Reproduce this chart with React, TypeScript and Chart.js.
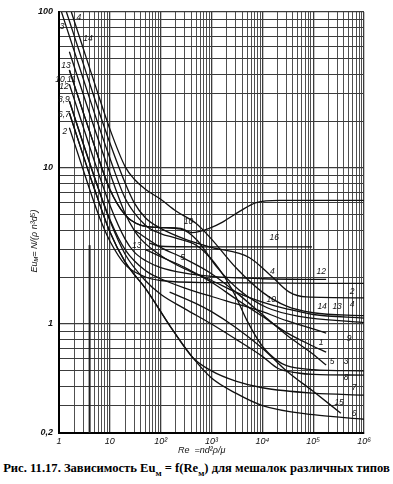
import { useEffect, useRef } from 'react';
import { Chart, registerables } from 'chart.js';

Chart.register(...registerables);

// ---- data (Re, Eu) per curve ----
const re14 = [1.75, 3, 5, 10, 20, 30, 50, 100, 200, 500, 1000, 3000, 10000, 30000, 100000, 1000000];
const eu14 = [100, 58.3, 35, 17.8, 10.2, 8.5, 7.3, 6.3, 5.3, 4.4, 3.5, 2.3, 1.6, 1.3, 1.18, 1.13];

const re4 = [1.4, 2, 3, 5, 10, 20, 30, 50, 100, 300, 1000, 5600, 15700, 34000, 73000, 1000000];
const eu4 = [100, 70, 46.7, 28, 14.5, 8.0, 6.0, 4.8, 4.1, 3.5, 3.1, 2.66, 2.0, 1.6, 1.49, 1.47];

const re3 = [1.12, 2, 3, 5, 10, 20, 50, 100, 200, 500, 1000, 2000, 3000, 5000, 10000, 20000, 30000, 100000, 1000000];
const eu3 = [100, 56, 37.3, 22.4, 11.6, 6.4, 4.3, 3.8, 3.55, 3.2, 2.6, 1.9, 1.5, 1.05, 0.72, 0.58, 0.54, 0.51, 0.5];

const re13 = [1.6, 3, 5, 10, 20, 30, 42, 100, 300, 1000, 3000, 10000, 30000, 100000, 1000000];
const eu13 = [55.6, 29.7, 17.9, 9.3, 5.1, 4.0, 3.46, 2.75, 2.25, 1.9, 1.6, 1.38, 1.25, 1.15, 1.09];

const re11 = [1.6, 3, 5, 10, 20, 40, 100, 250, 420, 900, 1650, 3500, 7600, 21700, 1000000];
const eu11 = [42.5, 22.7, 13.8, 7.3, 5.0, 4.3, 4.15, 4.1, 3.85, 4.1, 4.5, 5.25, 6.0, 6.2, 6.2];

const re10 = [1.6, 3, 5, 10, 20, 40, 100, 250, 510, 1250, 3500, 12500, 53000, 1000000];
const eu10 = [42.5, 22.7, 13.8, 7.3, 5.0, 4.3, 4.15, 4.05, 3.47, 2.33, 1.65, 1.27, 1.12, 1.02];

const re12 = [1.6, 3, 5, 10, 20, 30, 50, 100, 300, 1000, 10000, 180000];
const eu12 = [34.4, 18.3, 11, 5.8, 3.5, 2.9, 2.55, 2.3, 2.12, 2.02, 1.95, 1.93];

const re2 = [1.6, 3, 5, 7, 10, 20, 50, 100, 1000, 1000000];
const eu2 = [18.1, 9.7, 5.9, 4.4, 3.4, 2.4, 2.0, 1.9, 1.84, 1.82];

const re9 = [1.6, 3, 5, 10, 20, 50, 100, 300, 1000, 3000, 10000, 30000, 100000, 180000];
const eu9 = [26.9, 14.3, 8.7, 4.7, 3.0, 2.2, 1.95, 1.7, 1.5, 1.35, 1.2, 1.05, 0.93, 0.875];

const re8 = [1.6, 3, 5, 10, 20, 50, 100, 300, 1000, 3000, 10000, 20000, 50000, 100000, 1000000];
const eu8 = [26.9, 14.3, 8.7, 4.6, 2.8, 1.9, 1.55, 1.25, 1.0, 0.8, 0.62, 0.52, 0.485, 0.475, 0.47];

const re7 = [1.6, 3, 5, 10, 20, 53, 172, 425, 1000, 3000, 10000, 100000, 1000000];
const eu7 = [22.5, 12, 7.3, 3.9, 2.5, 1.65, 0.915, 0.61, 0.5, 0.43, 0.39, 0.36, 0.35];

const re6 = [1.6, 3, 5, 10, 20, 53, 172, 425, 1000, 3000, 10000, 100000, 1000000];
const eu6 = [22.5, 12, 7.3, 3.9, 2.5, 1.65, 0.915, 0.61, 0.45, 0.36, 0.3, 0.262, 0.245];

const re1 = [50, 100, 300, 1000, 3000, 10000, 30000, 100000, 180000];
const eu1 = [3.0, 2.7, 2.3, 1.85, 1.45, 1.12, 0.88, 0.72, 0.66];

const re5 = [30, 100, 270, 1000, 3000, 10000, 30000, 100000, 180000];
const eu5 = [4.0, 3.1, 2.66, 2.1, 1.6, 1.15, 0.85, 0.64, 0.545];

const re15 = [150, 500, 1000, 3000, 10000, 30000, 100000, 350000];
const eu15 = [1.6, 1.35, 1.2, 0.95, 0.7, 0.5, 0.37, 0.268];

const re16 = [60, 100, 1000, 95000];
const eu16 = [3.3, 3.15, 3.12, 3.12];

// heavy vertical stroke near Re = 4
const reStroke = [4, 4];
const euStroke = [0.2, 3.2];

const curves: [number[], number[]][] = [
  [re14, eu14], [re4, eu4], [re3, eu3], [re13, eu13], [re11, eu11], [re10, eu10],
  [re12, eu12], [re2, eu2], [re9, eu9], [re8, eu8], [re7, eu7], [re6, eu6],
  [re1, eu1], [re5, eu5], [re15, eu15], [re16, eu16],
];

// curve number labels (text, Re, Eu)
const labelText = ['4', '3', '14', '13', '10,11', '12', '8,9', '6,7', '2',
  '10', '13', '5', '16', '4', '12', '10', '14', '13', '2', '4', '9', '1', '5', '3', '8', '7', '15', '6'];
const labelRe = [2.47, 1.145, 3.7, 1.37, 1.35, 1.25, 1.25, 1.25, 1.31,
  354, 33.8, 270, 17200, 15700, 143500, 15000, 150000, 296000, 582000, 582000, 508000, 143500, 236000, 444000, 444000, 637000, 324000, 637000];
const labelEu = [92, 80, 67, 45, 37, 33, 27.6, 22, 17.2,
  4.53, 3.18, 2.66, 3.57, 2.16, 2.16, 1.43, 1.29, 1.29, 1.61, 1.34, 0.8, 0.755, 0.57, 0.57, 0.45, 0.39, 0.315, 0.268];

// axes
const xDecades = [1, 10, 100, 1000, 10000, 100000];
const mantissas = [1, 2, 3, 4, 5, 6, 7, 8, 9];
const xLabelValues = [1, 10, 100, 1000, 10000, 100000, 1000000];
const xLabelTexts = ['1', '10', '10²', '10³', '10⁴', '10⁵', '10⁶'];
const yGridValues = [0.2, 0.3, 0.4, 0.5, 0.6, 0.7, 0.8, 0.9, 1, 2, 3, 4, 5, 6, 7, 8, 9, 10, 20, 30, 40, 50, 60, 70, 80, 90, 100];
const yLabelValues = [0.2, 1, 10, 100];
const yLabelTexts = ['0,2', '1', '10', '100'];

const xGridValues: number[] = [];
xDecades.forEach((d) => mantissas.forEach((m) => xGridValues.push(Number((d * m).toPrecision(6)))));
xGridValues.push(1000000);

const decadeSet = [1, 10, 100, 1000, 10000, 100000, 1000000, 0.2];

const FONT = 'Liberation Sans';

const textPlugin = {
  id: 'texts',
  afterDraw(chart: any) {
    const ctx = chart.ctx;
    const xs = chart.scales.x;
    const ys = chart.scales.y;
    ctx.save();
    ctx.fillStyle = '#111';
    ctx.textAlign = 'center';
    ctx.textBaseline = 'middle';
    ctx.font = `italic 8.5px "${FONT}"`;
    labelText.forEach((t, i) => {
      ctx.fillText(t, xs.getPixelForValue(labelRe[i]), ys.getPixelForValue(labelEu[i]));
    });

    // x axis title
    ctx.font = `italic 9px "${FONT}"`;
    ctx.textAlign = 'left';
    ctx.fillText('Re  =nd²ρ/μ', 178, 450);

    // y axis title (rotated)
    ctx.translate(34, 241);
    ctx.rotate(-Math.PI / 2);
    const parts: [string, number, number][] = [
      ['Eu', 9, 0], ['м', 7, 2], ['= N/(ρ n³d⁵)', 9, 0],
    ];
    let total = 0;
    parts.forEach(([s, sz]) => { ctx.font = `italic ${sz}px "${FONT}"`; total += ctx.measureText(s).width; });
    let xp = -total / 2;
    ctx.textAlign = 'left';
    parts.forEach(([s, sz, dy]) => {
      ctx.font = `italic ${sz}px "${FONT}"`;
      ctx.fillText(s, xp, dy);
      xp += ctx.measureText(s).width;
    });
    ctx.restore();
  },
};

export default function App() {
  const ref = useRef<HTMLCanvasElement>(null);
  useEffect(() => {
    if (!ref.current) return;
    const datasets: any[] = curves.map(([rs, es]) => ({
      data: rs.map((r, i) => ({ x: r, y: es[i] })),
      borderColor: '#111',
      borderWidth: 1.3,
      pointRadius: 0,
      fill: false,
      cubicInterpolationMode: 'monotone' as const,
    }));
    datasets.push({
      data: reStroke.map((r, i) => ({ x: r, y: euStroke[i] })),
      borderColor: '#222',
      borderWidth: 2,
      pointRadius: 0,
      fill: false,
    });
    const chart = new Chart(ref.current, {
      type: 'line',
      data: { datasets },
      plugins: [textPlugin],
      options: {
        responsive: false,
        animation: false,
        layout: { padding: { left: 0, right: 29, top: 12, bottom: 0 } },
        plugins: { legend: { display: false }, tooltip: { enabled: false } },
        scales: {
          x: {
            type: 'logarithmic',
            min: 1,
            max: 1000000,
            afterBuildTicks: (s: any) => { s.ticks = xGridValues.map((v) => ({ value: v })); },
            afterFit: (s: any) => { s.height = 22; },
            ticks: {
              autoSkip: false,
              maxRotation: 0,
              padding: 3,
              color: '#111',
              font: { family: FONT, size: 9, style: 'italic' },
              callback: (v: any) => {
                const i = xLabelValues.indexOf(Number(v));
                return i >= 0 ? xLabelTexts[i] : '';
              },
            },
            grid: {
              drawTicks: false,
              color: '#3c3c3c',
              lineWidth: (c: any) => (decadeSet.includes(c.tick?.value) ? 1.3 : 0.9),
            },
            border: { color: '#000', width: 2 },
          },
          y: {
            type: 'logarithmic',
            min: 0.2,
            max: 100,
            afterBuildTicks: (s: any) => { s.ticks = yGridValues.map((v) => ({ value: v })); },
            afterFit: (s: any) => { s.width = 59; },
            ticks: {
              autoSkip: false,
              padding: 6,
              color: '#111',
              font: { family: FONT, size: 9, style: 'italic', weight: 'bold' },
              callback: (v: any) => {
                const i = yLabelValues.indexOf(Number(v));
                return i >= 0 ? yLabelTexts[i] : '';
              },
            },
            grid: {
              drawTicks: false,
              color: '#3c3c3c',
              lineWidth: (c: any) => (decadeSet.includes(c.tick?.value) ? 1.3 : 1),
            },
            border: { color: '#000', width: 2 },
          },
        },
      },
    });
    return () => chart.destroy();
  }, []);

  return (
    <div style={{ position: 'absolute', left: 0, top: 0, width: 393, height: 484, background: '#fff' }}>
      <canvas ref={ref} width={393} height={455} style={{ display: 'block' }} />
      <div
        style={{
          position: 'absolute',
          left: 0,
          top: 461,
          width: 393,
          textAlign: 'center',
          fontFamily: '"Liberation Serif", serif',
          fontWeight: 'bold',
          fontSize: 12.6,
          whiteSpace: 'nowrap',
          color: '#000',
        }}
      >
        Рис. 11.17. Зависимость Eu<sub style={{ fontSize: 9 }}>м</sub> = f(Re<sub style={{ fontSize: 9 }}>м</sub>) для мешалок различных типов
      </div>
    </div>
  );
}
